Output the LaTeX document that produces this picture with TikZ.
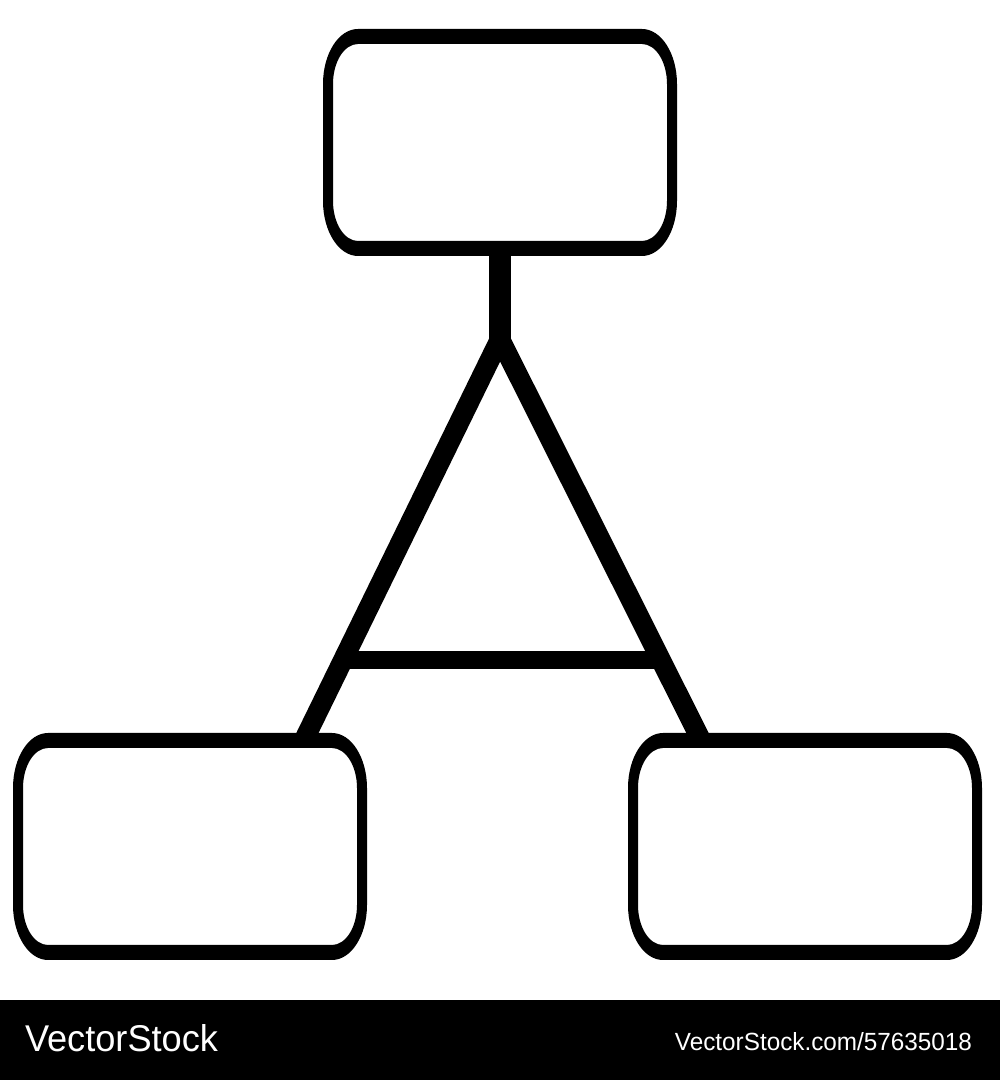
\documentclass[tikz,border=0pt]{standalone}
\usepackage{fontspec}
\setmainfont{Liberation Sans}
\usetikzlibrary{calc}
\newcommand\ringbox[1]{%
  \fill[black,even odd rule]
    ($(#1.south west)+(35,0)$) -- ($(#1.south east)+(-35,0)$)
      arc[start angle=-90,end angle=0,x radius=35,y radius=55]
    -- ($(#1.north east)+(0,-55)$)
      arc[start angle=0,end angle=90,x radius=35,y radius=55]
    -- ($(#1.north west)+(35,0)$)
      arc[start angle=90,end angle=180,x radius=35,y radius=55]
    -- ($(#1.south west)+(0,55)$)
      arc[start angle=180,end angle=270,x radius=35,y radius=55]
    -- cycle
    ($(#1.south west)+(35,15)$) -- ($(#1.south east)+(-35,15)$)
      arc[start angle=-90,end angle=0,x radius=25,y radius=40]
    -- ($(#1.north east)+(-10,-55)$)
      arc[start angle=0,end angle=90,x radius=25,y radius=40]
    -- ($(#1.north west)+(35,-15)$)
      arc[start angle=90,end angle=180,x radius=25,y radius=40]
    -- ($(#1.south west)+(10,55)$)
      arc[start angle=180,end angle=270,x radius=25,y radius=40]
    -- cycle;}
\tikzset{
  boxnode/.style={draw=none,rectangle,inner sep=0pt,outer sep=0pt,
    minimum width=354pt,minimum height=227pt},
  stemline/.style={line width=22pt,line cap=butt},
  legline/.style={line width=20pt,line cap=butt},
  barline/.style={line width=18pt,line cap=butt},
  wmark/.style={text=white,inner sep=0pt,outer sep=0pt,font=\sffamily}
}
\setsansfont{Liberation Sans}
\begin{document}
\begin{tikzpicture}[x=1pt,y=1pt]
\useasboundingbox (0,0) rectangle (1000,1080);
\fill[white] (0,0) rectangle (1000,1080);
% boxes
\node[boxnode] (top) at (500,937.5) {};
\node[boxnode] (left) at (190,233.5) {};
\node[boxnode] (right) at (805,233.5) {};
\ringbox{top}
\ringbox{left}
\ringbox{right}
% connector points
\coordinate (apex) at (500,741);
\coordinate (lfoot) at ($(left.north east)+(-64,-9)$);
\coordinate (rfoot) at ($(right.north west)+(74,-9)$);
\coordinate (lbar) at ($(apex)!0.7965!(lfoot)$);
\coordinate (rbar) at ($(apex)!0.7965!(rfoot)$);
% connectors
\draw[stemline] ($(top.south)+(0,6)$) -- (apex);
\draw[legline] (apex) -- (lfoot);
\draw[legline] (apex) -- (rfoot);
\draw[barline] (lbar) -- (rbar);
% bottom banner
\fill[black] (0,0) rectangle (1000,80);
\node[wmark,anchor=south west] (brand) at (25,28) {\resizebox{193pt}{27pt}{VectorStock}};
\node[wmark,anchor=south east] (ref) at (972,29) {\resizebox{297pt}{18pt}{VectorStock.com/57635018}};
\end{tikzpicture}
\end{document}
